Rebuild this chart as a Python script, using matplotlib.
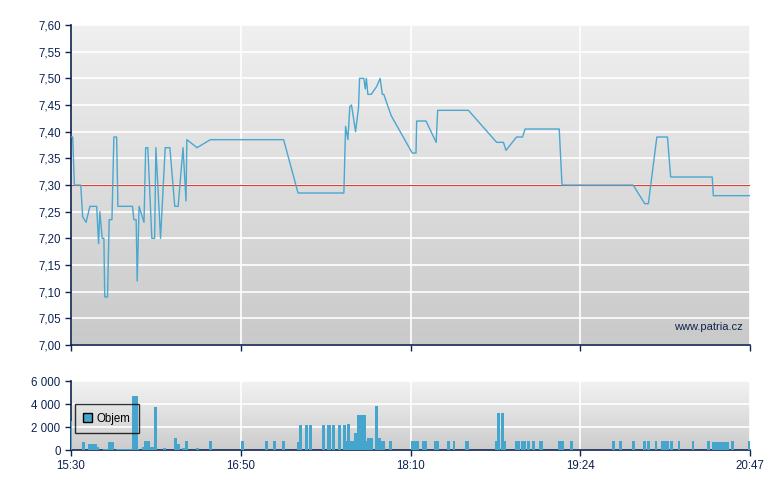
import numpy as np
import matplotlib
matplotlib.use("Agg")
import matplotlib.pyplot as plt
from matplotlib.patches import Patch

plt.rcParams['font.family'] = ['Liberation Sans', 'DejaVu Sans']

# ---------------------- DATA ----------------------------
# time axis in minutes-ish units, 0..320 (tick every 80)
tick_pos = [0, 80, 160, 240, 320]
tick_lbl = ["15:30", "16:50", "18:10", "19:24", "20:47"]

ref_price = 7.30

t_price = [0, 0.8, 1.6, 4.6, 5.5, 7.1, 8.9, 12.1, 13.0, 13.6, 14.7, 15.5, 15.9, 17.2,
           18.0, 19.3, 20.2, 21.5, 22.1, 29.0, 29.6, 30.7, 31.2, 32.1, 34.4, 35.2,
           36.2, 38.1, 39.4, 40.0, 42.2, 44.4, 46.6, 48.9, 50.5, 52.8, 54.2, 54.6,
           59.4, 65.7, 100.2, 107.0, 128.6, 129.4, 130.5, 131.4, 132.2, 134.1, 135.5,
           136.0, 138.0, 138.7, 139.2, 139.9, 141.5, 144.1, 145.7, 146.7, 147.4,
           150.9, 160.8, 162.6, 162.9, 167.3, 172.1, 172.8, 187.3, 200.6, 203.8,
           205.0, 210.0, 212.8, 214.0, 230.1, 231.4, 264.9, 270.4, 272.1, 276.1,
           281.1, 282.6, 302.2, 302.7, 320]
price = [7.39, 7.39, 7.30, 7.30, 7.24, 7.23, 7.26, 7.26, 7.19, 7.25, 7.20, 7.20, 7.09, 7.09,
         7.235, 7.235, 7.39, 7.39, 7.26, 7.26, 7.235, 7.235, 7.12, 7.26, 7.23, 7.37,
         7.37, 7.20, 7.20, 7.37, 7.20, 7.37, 7.37, 7.26, 7.26, 7.37, 7.27, 7.385,
         7.37, 7.385, 7.385, 7.285, 7.285, 7.41, 7.385, 7.447, 7.45, 7.40, 7.445,
         7.50, 7.50, 7.48, 7.50, 7.47, 7.47, 7.485, 7.50, 7.47, 7.47,
         7.43, 7.36, 7.36, 7.42, 7.42, 7.38, 7.44, 7.44, 7.38, 7.38,
         7.365, 7.39, 7.39, 7.405, 7.405, 7.30, 7.30, 7.265, 7.265, 7.39,
         7.39, 7.315, 7.315, 7.28, 7.28]

# volume bars: start, end (same time units), volume
vol_start = [-0.7, 5.2, 8.0, 12.2, 15.1, 17.4, 21.2, 28.7, 31.5, 33.4, 34.4, 37.2, 39.1,
             43.3, 48.5, 49.9, 52.2, 53.6, 58.8, 64.9, 80.0, 91.3, 95.1, 99.3, 106.4,
             107.3, 110.1, 112.0, 118.1, 120.5, 122.8, 125.6, 128.0, 129.4, 129.9,
             131.3, 133.2, 135.0, 138.8, 139.3, 143.5, 144.9, 146.3, 150.1,
             160.0, 165.6, 171.3, 177.4, 179.8, 185.9, 200.0, 200.9, 202.8, 204.2,
             209.4, 212.2, 215.1, 217.4, 220.7, 229.6, 235.3, 255.1, 258.4, 264.5,
             269.6, 271.5, 275.3, 278.1, 282.4, 286.1, 292.7, 299.8, 302.1, 311.1, 319.1]
vol_end = [0.7, 6.6, 12.2, 13.2, 17.4, 20.2, 28.7, 31.5, 32.0, 34.4, 37.2, 39.1, 40.5,
           44.7, 49.9, 51.3, 53.6, 55.1, 60.2, 66.4, 81.4, 92.7, 96.5, 100.7, 107.3,
           108.7, 111.5, 113.4, 119.5, 122.4, 124.2, 127.1, 129.4, 129.9, 131.3,
           133.2, 134.6, 138.8, 139.3, 142.1, 144.9, 146.3, 148.2, 151.5,
           164.2, 168.0, 173.6, 178.8, 181.2, 187.8, 200.9, 202.4, 204.2, 205.2,
           211.8, 214.6, 216.5, 218.8, 222.6, 232.5, 236.7, 256.5, 259.8, 265.9,
           271.1, 272.9, 276.2, 281.9, 283.8, 287.1, 293.6, 301.2, 310.1, 312.5, 320.5]
vol = [2500, 700, 520, 260, 80, 700, 80, 4700, 80, 260, 780, 260, 3740,
       170, 1040, 520, 170, 780, 170, 780, 780, 780, 780, 780, 700,
       2170, 2170, 2170, 2170, 2170, 2170, 2170, 2170, 780, 2260,
       780, 1480, 3040, 780, 1040, 3830, 1040, 780, 780,
       770, 770, 770, 770, 770, 770, 770, 3220, 3220, 770,
       770, 770, 770, 770, 770, 770, 770, 770, 770, 770,
       770, 770, 770, 770, 770, 770, 770, 770, 700, 770, 770]

# ---------------------- STYLE ----------------------------
NAVY = "#0d2350"
BLUE = "#4aa7d0"
BAR = "#45a5cc"

fig = plt.figure(figsize=(7.8, 4.9), dpi=100)
ax = fig.add_axes([71/780, 1-345/490, 679/780, 320/490])
axv = fig.add_axes([71/780, 1-450/490, 679/780, 69/490])

grad = np.linspace(0, 1, 256).reshape(-1, 1)
for a, c0, c1 in ((ax, 0.94, 0.79), (axv, 0.95, 0.80)):
    g = c0 + (c1 - c0) * grad
    a.imshow(np.dstack([g, g, g]), extent=(0, 1, 0, 1), transform=a.transAxes,
             aspect='auto', zorder=0, interpolation='bilinear')
    for s in ('top', 'right'):
        a.spines[s].set_visible(False)
    for s in ('left', 'bottom'):
        a.spines[s].set_color(NAVY)
        a.spines[s].set_linewidth(1.2)
    a.set_xlim(0, 320)
    a.set_xticks(tick_pos)
    a.tick_params(colors=NAVY, labelcolor=NAVY, labelsize=8.3, length=4, width=1, direction='out')
    a.grid(True, color='white', linewidth=1.2, zorder=1)
    a.set_axisbelow(True)

# ---------------------- PRICE ----------------------------
ax.axhline(ref_price, color="#e33a32", linewidth=0.8, zorder=2)
ax.plot(t_price, price, color=BLUE, linewidth=1.0, zorder=3)
ax.set_ylim(7.0, 7.6)
yt = np.round(np.arange(7.0, 7.601, 0.05), 2)
ax.set_yticks(yt)
ax.set_yticklabels([f"{v:.2f}".replace(".", ",") for v in yt])
ax.set_xticklabels([])
ax.text(0.99, 0.055, "www.patria.cz", transform=ax.transAxes, ha='right', va='center',
        color=NAVY, fontsize=8, zorder=4)

# ---------------------- VOLUME ---------------------------
w = np.array(vol_end) - np.array(vol_start)
axv.bar(vol_start, vol, width=w, align='edge', color=BAR, linewidth=0, zorder=3)
axv.set_ylim(0, 6000)
axv.set_yticks([0, 2000, 4000, 6000])
axv.set_yticklabels(["0", "2 000", "4 000", "6 000"])
axv.set_xticklabels(tick_lbl)
leg = axv.legend(handles=[Patch(facecolor=BAR, edgecolor='black', linewidth=1, label="Objem")],
                 loc='upper left', bbox_to_anchor=(0.006, 0.66), fontsize=8.3,
                 frameon=True, fancybox=False, handlelength=0.8, handleheight=0.8,
                 handletextpad=0.4, borderpad=0.7, borderaxespad=0)
leg.get_frame().set_edgecolor('black')
leg.get_frame().set_facecolor('none')
leg.get_frame().set_linewidth(1)

fig.savefig("out.png", dpi=100)
